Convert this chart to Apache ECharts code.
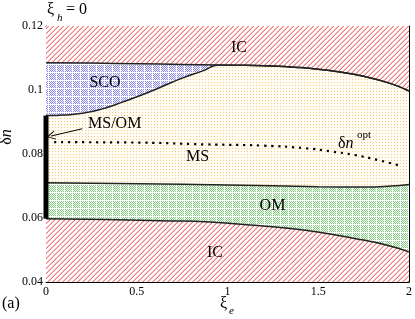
<!DOCTYPE html>
<html><head><meta charset="utf-8">
<script src="https://cdn.jsdelivr.net/npm/echarts@6/dist/echarts.min.js"></script>
<style>html,body{margin:0;padding:0;background:#fff}#c{width:415px;height:319px}</style>
</head><body><div id="c"></div>
<script>
const xiTicks = ['0','0.5','1','1.5','2'];
const dnTicks = ['0.04','0.06','0.08','0.1','0.12'];

const topXi = [0, 2];
const topDn = [0.12, 0.12];

const upperXi = [0, 0.25, 0.5, 0.75, 0.953, 1.1, 1.25, 1.4, 1.5, 1.6, 1.75, 1.9, 2.0];
const upperDn = [0.1085, 0.1084, 0.1082, 0.1080, 0.1078, 0.1077, 0.1075, 0.1070, 0.1065, 0.1058, 0.1043, 0.1020, 0.0997];

const scoXi = [0, 0.1, 0.2, 0.31, 0.42, 0.53, 0.64, 0.75, 0.86, 0.953];
const scoDn = [0.0920, 0.0922, 0.0927, 0.0941, 0.0962, 0.0985, 0.1011, 0.1037, 0.1059, 0.1078];

const msOmXi = [0, 0.5, 1.0, 1.5, 1.75, 1.9, 2.0];
const msOmDn = [0.0710, 0.0707, 0.0703, 0.0698, 0.0697, 0.0700, 0.0705];

const omIcXi = [0, 0.33, 0.69, 0.88, 1.15, 1.43, 1.70, 1.88, 2.0];
const omIcDn = [0.0598, 0.0595, 0.0591, 0.0588, 0.0577, 0.0562, 0.0536, 0.0515, 0.0494];

const optXi = [0.045, 0.46, 0.88, 1.2, 1.43, 1.57, 1.70, 1.83, 1.96];
const optDn = [0.0837, 0.0836, 0.0830, 0.0826, 0.0818, 0.0808, 0.0797, 0.0781, 0.0762];

const barXi = [0, 0];
const barDn = [0.0920, 0.0598];

const arrowFrom = [0.2, 0.0879];
const arrowTo = [0.027, 0.0856];

const zip = (a, b) => a.map((v, i) => [v, b[i]]);
const serif = "'Liberation Serif', 'Times New Roman', Times, 'DejaVu Serif', serif";

function pat(size, draw) {
  const c = document.createElement('canvas');
  c.width = size; c.height = size;
  const ctx = c.getContext('2d');
  draw(ctx, size);
  return { image: c, repeat: 'repeat' };
}
function hatch() {
  return pat(5, (ctx, s) => {
    ctx.fillStyle = '#ffffff'; ctx.fillRect(0, 0, s, s);
    for (let x = 0; x < s; x++) for (let y = 0; y < s; y++) {
      const k = (x + y) % s;
      if (k === 4) { ctx.fillStyle = '#f27c7c'; ctx.fillRect(x, y, 1, 1); }
      else if (k === 3) { ctx.fillStyle = '#f9bcbc'; ctx.fillRect(x, y, 1, 1); }
    }
  });
}
const redTop = hatch();
const redBottom = hatch();
function checker(col) {
  return pat(8, (ctx, s) => {
    ctx.fillStyle = '#ffffff'; ctx.fillRect(0, 0, s, s);
    ctx.fillStyle = col;
    for (let x = 1; x < s; x++) for (let y = 1; y < s; y++) if ((x + y) % 2 === 0) ctx.fillRect(x, y, 1, 1);
  });
}
const blueFill = checker('#8686f2');
const greenFill = checker('#7ccc7c');
const yellowFill = pat(3, (ctx, s) => {
  ctx.fillStyle = '#fffdf6'; ctx.fillRect(0, 0, s, s);
  ctx.fillStyle = '#f6cc7a'; ctx.fillRect(1, 1, 1, 1);
});

const lineCol = '#222';
function area(data, fill, lw) {
  return { type: 'line', data, symbol: 'none', smooth: 0.5,
    lineStyle: { color: lineCol, width: lw, opacity: lw > 0 ? 1 : 0 },
    areaStyle: { color: fill, opacity: 1, origin: 'start' },
    silent: true, animation: false };
}

const axisCommon = {
  axisLine: { show: true, onZero: false, lineStyle: { color: '#000', width: 1 } },
  axisTick: { show: true, inside: true, length: 5, lineStyle: { color: '#000' } },
  minorTick: { show: true, splitNumber: 2, length: 3, lineStyle: { color: '#000' } },
  splitLine: { show: false }, minorSplitLine: { show: false }
};

function txt(x, y, text, size, opts) {
  return { type: 'text', x, y, z: 100,
    style: { text, font: (opts && opts.italic ? 'italic ' : '') + size + 'px ' + serif, fill: '#000',
      align: (opts && opts.align) || 'center', verticalAlign: 'middle' } };
}
function richTxt(x, y, a, b, size, align, rot) {
  return { type: 'text', x, y, z: 100, rotation: rot || 0,
    style: { text: '{a|' + a + '}{b|' + b + '}', align, verticalAlign: 'middle',
      rich: { a: { font: size + 'px ' + serif, fill: '#000' }, b: { font: 'italic ' + size + 'px ' + serif, fill: '#000' } } } };
}

const chart = echarts.init(document.getElementById('c'), null, { renderer: 'canvas' });
chart.setOption({
  animation: false,
  grid: { left: 46, top: 26, width: 366, height: 256 },
  xAxis: [
    Object.assign({ type: 'value', min: 0, max: 2, interval: 0.5, position: 'bottom',
      axisLabel: { fontFamily: serif, fontSize: 12, color: '#000', margin: 4,
        formatter: (v) => xiTicks[Math.round(v / 0.5)] } }, axisCommon),
    Object.assign({ type: 'value', min: 0, max: 2, interval: 0.5, position: 'top',
      axisLabel: { show: false } }, axisCommon)
  ],
  yAxis: [
    Object.assign({ type: 'value', min: 0.04, max: 0.12, interval: 0.02, position: 'left',
      axisLabel: { fontFamily: serif, fontSize: 12, color: '#000', margin: 3,
        formatter: (v) => dnTicks[Math.round((v - 0.04) / 0.02)] } }, axisCommon),
    Object.assign({ type: 'value', min: 0.04, max: 0.12, interval: 0.02, position: 'right',
      axisLabel: { show: false } }, axisCommon)
  ],
  series: [
    area(zip(topXi, topDn), redTop, 0),
    area(zip(upperXi, upperDn), blueFill, 1.5),
    area(zip(scoXi, scoDn).concat(zip(upperXi, upperDn).filter(p => p[0] > 0.953)), yellowFill, 1.5),
    area(zip(msOmXi, msOmDn), greenFill, 1.5),
    area(zip(omIcXi, omIcDn), redBottom, 1.5),
    { type: 'line', data: zip(optXi, optDn), symbol: 'none', smooth: 0.5, silent: true,
      lineStyle: { color: '#000', width: 2.2, type: [2.2, 4.8], cap: 'butt' } },
    { type: 'line', data: zip(barXi, barDn), symbol: 'none', clip: false, silent: true,
      lineStyle: { color: '#000', width: 5, cap: 'butt' }, z: 5 },
    { type: 'lines', coordinateSystem: 'cartesian2d', silent: true, z: 5,
      symbol: ['none', 'path://M0,0 L7,13 L6,14 L0,3 L-6,14 L-7,13 Z'], symbolSize: [9, 9],
      lineStyle: { color: '#000', width: 1, opacity: 1 },
      data: [{ coords: [arrowFrom, arrowTo] }] }
  ],
  graphic: [
    txt(47, 10, 'ξ', 16, { align: 'left' }),
    txt(57, 18, 'h', 11, { align: 'left', italic: true }),
    txt(66, 10, '= 0', 16, { align: 'left' }),
    richTxt(7, 137, 'δ', 'n', 16, 'center', Math.PI / 2),
    txt(220, 304, 'ξ', 16, { align: 'left' }),
    txt(229, 311, 'e', 11, { align: 'left', italic: true }),
    txt(2, 304, '(a)', 16, { align: 'left' }),
    txt(239, 47.5, 'IC', 16),
    txt(105, 82.5, 'SCO', 16),
    txt(88, 124, 'MS/OM', 16, { align: 'left' }),
    txt(197.5, 157, 'MS', 16),
    txt(272.5, 206, 'OM', 16),
    txt(215, 253, 'IC', 16),
    richTxt(338, 144, 'δ', 'n', 16, 'left'),
    txt(357, 135, 'opt', 11, { align: 'left' })
  ]
});
</script></body></html>
